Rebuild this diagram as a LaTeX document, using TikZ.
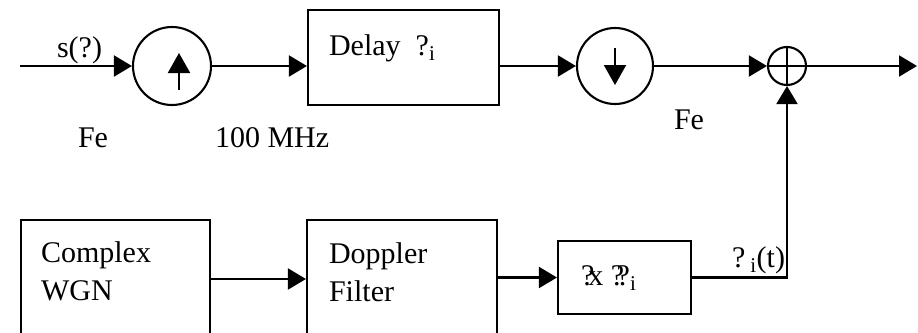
\documentclass[tikz,border=0pt]{standalone}
\usepackage{fontspec}
\setmainfont{Liberation Serif}
\usetikzlibrary{arrows.meta}
\begin{document}
\begin{tikzpicture}[x=1pt,y=-1pt,line width=2.1pt,
  font=\fontsize{30}{38}\selectfont,
  conn/.style={-{Triangle[length=18pt,width=21pt]}},
  inarrow/.style={-{Triangle[length=20pt,width=22pt]}},
  blk/.style={draw,rectangle,inner sep=0pt},
  circ/.style={draw,circle,inner sep=0pt},
  lbl/.style={anchor=base west,inner sep=0pt}]
\useasboundingbox (0,0) rectangle (918,332);
\clip (0,0) rectangle (918,332);
% top row
\coordinate (in) at (20,66);
\node[circ,minimum size=78pt] (up) at (172,66) {};
\node[blk,minimum width=191pt,minimum height=95pt] (delay) at (403.5,57.5) {};
\node[circ,minimum size=76pt] (down) at (615,66) {};
\node[circ,minimum size=38pt] (sum) at (787,66) {};
\coordinate (out) at (917,66);
% bottom row
\node[blk,minimum width=189pt,minimum height=140pt] (wgn) at (115.5,290) {};
\node[blk,minimum width=190pt,minimum height=140pt] (dop) at (402,290) {};
\node[blk,minimum width=133pt,minimum height=73pt] (mult) at (624.5,277.5) {};
% texts
\node[lbl] (s) at (56,57) {s(?)};
\node[lbl] (fe1) at (77,147) {Fe};
\node[lbl] (mhz) at (214,147) {100 MHz};
\node[lbl] (fe2) at (673,129) {Fe};
\node[lbl] (dtxt) at (328,55) {Delay\ \ ?\textsubscript{i}};
\node[lbl,align=left] (wtxt) at (40,300) {Complex\\WGN};
\node[lbl,align=left] (ftxt) at (328,301) {Doppler\\Filter};
\node[lbl] (mtxt) at (580,285) {?\kern-0.2em x ?\kern-0.25em?\textsubscript{i}};
\node[lbl] (ctxt) at (731,267) {?\,\textsubscript{i}(t)};
% symbols
\draw[inarrow] (179,90) -- (179,53);
\draw[inarrow] (615,48) -- (615,85);
\draw (sum.north) -- (sum.south);
\draw (sum.west) -- (sum.east);
% connectors
\draw[conn] (in) -- (up.west);
\draw[conn] (up.east) -- (delay.west |- up);
\draw[conn] (delay.east |- down) -- (down.west);
\draw[conn] (down.east) -- (sum.west);
\draw[conn] (sum.east) -- (out);
\draw[conn] (wgn.east |- 0,279) -- (dop.west |- 0,279);
\draw[conn] (dop.east |- mult) -- (mult.west);
\draw[conn] (mult.east) -| (sum.south);
\end{tikzpicture}
\end{document}
